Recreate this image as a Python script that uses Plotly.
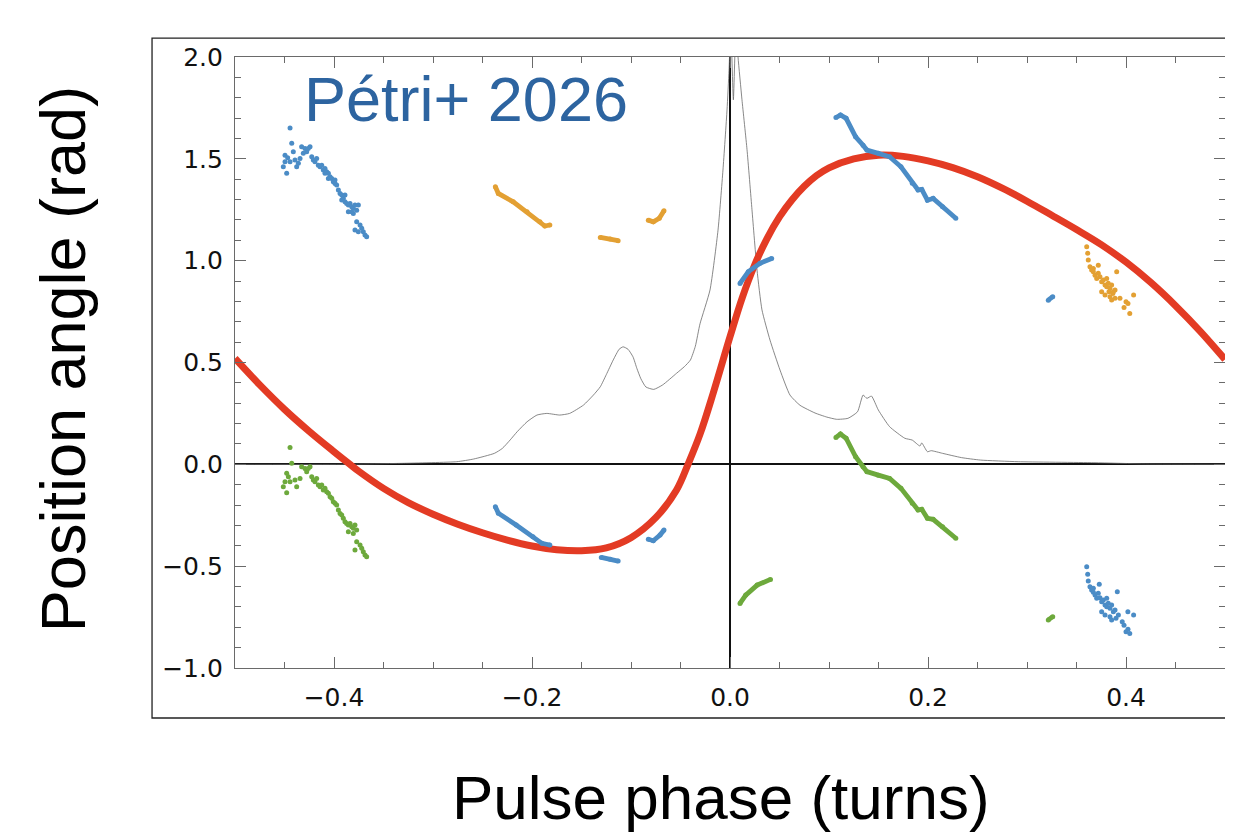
import plotly.graph_objects as go

# ---------------- data ----------------
# fitted RVM curve (red)
rvm_x = [-0.5, -0.475, -0.45, -0.425, -0.4, -0.384, -0.375, -0.35, -0.325, -0.3, -0.275, -0.25,
         -0.225, -0.2, -0.175, -0.15, -0.125, -0.1, -0.075, -0.054, -0.042, -0.030, -0.017,
         0.0, 0.0125, 0.025, 0.0375, 0.05, 0.0625, 0.075, 0.0875, 0.1, 0.125, 0.15, 0.175,
         0.2, 0.225, 0.25, 0.275, 0.3, 0.325, 0.35, 0.375, 0.4, 0.425, 0.45, 0.475, 0.5]
rvm_y = [0.52, 0.39, 0.27, 0.162, 0.062, 0.0, -0.034, -0.118, -0.188, -0.245, -0.294, -0.336,
         -0.372, -0.401, -0.419, -0.424, -0.41, -0.36, -0.262, -0.126, 0.005, 0.152, 0.349,
         0.626, 0.82, 0.98, 1.11, 1.215, 1.298, 1.365, 1.418, 1.456, 1.50, 1.518, 1.512,
         1.49, 1.457, 1.412, 1.356, 1.292, 1.223, 1.153, 1.079, 0.993, 0.893, 0.779, 0.653, 0.515]

# pulse profile (thin grey)
prof_x = [-0.5, -0.4, -0.33, -0.276, -0.259, -0.238, -0.230, -0.222, -0.215, -0.205, -0.195,
          -0.185, -0.172, -0.162, -0.148, -0.138, -0.131, -0.125, -0.118, -0.112, -0.108,
          -0.103, -0.098, -0.094, -0.090, -0.085, -0.077, -0.068, -0.054, -0.046, -0.040,
          -0.035, -0.0303, -0.0202, -0.0121, -0.0071, -0.003, -0.001, 0.0008, 0.0034, 0.006,
          0.0081, 0.0121, 0.0172, 0.0222, 0.0273, 0.0323, 0.0404, 0.0505, 0.0606, 0.0707,
          0.0859, 0.0978, 0.1078, 0.1192, 0.1288, 0.1344, 0.1383, 0.1429, 0.1498, 0.1612,
          0.1766, 0.1841, 0.1918, 0.1937, 0.1994, 0.2032, 0.2147, 0.2338, 0.2529, 0.2911,
          0.3676, 0.42, 0.5]
prof_y = [0.0, 0.0, 0.005, 0.013, 0.026, 0.054, 0.078, 0.12, 0.16, 0.209, 0.242,
          0.25, 0.242, 0.25, 0.291, 0.34, 0.381, 0.44, 0.512, 0.565, 0.577,
          0.565, 0.528, 0.47, 0.42, 0.38, 0.368, 0.39, 0.447, 0.48, 0.512,
          0.58, 0.69, 0.856, 1.15, 1.445, 1.74, 1.935, 2.15, 1.79, 2.15,
          2.0, 1.79, 1.545, 1.25, 0.954, 0.758, 0.61, 0.463, 0.34, 0.29,
          0.252, 0.232, 0.221, 0.226, 0.258, 0.340, 0.324, 0.335, 0.267, 0.185,
          0.128, 0.119, 0.090, 0.105, 0.062, 0.067, 0.054, 0.033, 0.021, 0.013,
          0.008, 0.002, 0.0]

# blue position angles
blue_a_x = [-0.237, -0.234, -0.216, -0.199, -0.190, -0.182]
blue_a_y = [-0.208, -0.240, -0.298, -0.355, -0.388, -0.396]
blue_b_x = [-0.130, -0.121, -0.113]
blue_b_y = [-0.457, -0.466, -0.475]
blue_c_x = [-0.0825, -0.0775, -0.0707, -0.0667]
blue_c_y = [-0.368, -0.375, -0.347, -0.323]
blue_d_x = [0.0101, 0.0185, 0.0303, 0.0421]
blue_d_y = [0.888, 0.946, 0.987, 1.011]
blue_e_x = [0.107, 0.1116, 0.1173, 0.1269, 0.1344, 0.1383, 0.1498, 0.1612, 0.1727, 0.1841,
            0.1899, 0.1937, 0.1994, 0.2052, 0.2147, 0.2281]
blue_e_y = [1.703, 1.715, 1.699, 1.608, 1.567, 1.543, 1.527, 1.51, 1.461, 1.38,
            1.347, 1.35, 1.297, 1.306, 1.265, 1.208]
blue_f_x = [0.3215, 0.326]
blue_f_y = [0.806, 0.823]

# orange position angles
orange_a_x = [-0.237, -0.234, -0.219, -0.205, -0.192, -0.187, -0.182]
orange_a_y = [1.363, 1.33, 1.289, 1.24, 1.191, 1.17, 1.175]
orange_b_x = [-0.131, -0.121, -0.113]
orange_b_y = [1.114, 1.106, 1.098]
orange_c_x = [-0.0825, -0.0775, -0.0714, -0.0667]
orange_c_y = [1.199, 1.191, 1.208, 1.245]

# green position angles
green_a_x = [0.107, 0.1116, 0.1173, 0.1269, 0.1344, 0.1383, 0.1498, 0.1612, 0.1727, 0.1841,
             0.1899, 0.1937, 0.1994, 0.2052, 0.2147, 0.2281]
green_a_y = [0.132, 0.149, 0.128, 0.037, -0.012, -0.036, -0.053, -0.069, -0.118, -0.191,
             -0.224, -0.221, -0.265, -0.27, -0.306, -0.363]
green_b_x = [0.0101, 0.0159, 0.0274, 0.0409]
green_b_y = [-0.683, -0.642, -0.593, -0.565]
green_c_x = [0.3215, 0.326]
green_c_y = [-0.764, -0.748]

# scattered clusters
blue_left_x = [-0.4444, -0.4427, -0.4495, -0.4468, -0.4512, -0.4478, -0.4495, -0.4444, -0.4394, -0.4377,
               -0.4343, -0.4327, -0.4293, -0.4276, -0.4260, -0.4242, -0.4225, -0.4209, -0.4192, -0.4175,
               -0.4158, -0.4141, -0.4124, -0.4108, -0.4091, -0.4074, -0.4057, -0.4040, -0.4023, -0.4007,
               -0.3990, -0.3973, -0.3956, -0.3939, -0.3922, -0.3906, -0.3889, -0.3872, -0.3855, -0.3838,
               -0.3821, -0.3805, -0.3788, -0.3771, -0.3855, -0.3805, -0.3771, -0.3788, -0.3737, -0.3720,
               -0.3704, -0.3687, -0.3670, -0.3754, -0.4411, -0.4360, -0.4310, -0.4091, -0.4057, -0.3990,
               -0.3922, -0.3889, -0.3821, -0.3754]
blue_left_y = [1.652, 1.576, 1.518, 1.505, 1.461, 1.429, 1.486, 1.486, 1.494, 1.461,
               1.502, 1.559, 1.551, 1.535, 1.551, 1.559, 1.510, 1.494, 1.486, 1.502,
               1.469, 1.461, 1.469, 1.445, 1.453, 1.436, 1.429, 1.412, 1.404, 1.387,
               1.379, 1.371, 1.347, 1.330, 1.322, 1.306, 1.289, 1.281, 1.273, 1.281,
               1.265, 1.257, 1.273, 1.248, 1.240, 1.232, 1.191, 1.150, 1.175, 1.159,
               1.142, 1.126, 1.117, 1.142, 1.535, 1.478, 1.527, 1.429, 1.404, 1.396,
               1.298, 1.322, 1.240, 1.273]

green_left_x = [-0.4444, -0.4427, -0.4478, -0.4461, -0.4512, -0.4478, -0.4495, -0.4444, -0.4394, -0.4377,
                -0.4343, -0.4327, -0.4293, -0.4276, -0.4260, -0.4242, -0.4225, -0.4209, -0.4192, -0.4175,
                -0.4158, -0.4141, -0.4124, -0.4108, -0.4091, -0.4074, -0.4057, -0.4040, -0.4023, -0.4007,
                -0.3990, -0.3973, -0.3956, -0.3939, -0.3922, -0.3906, -0.3889, -0.3872, -0.3855, -0.3838,
                -0.3821, -0.3805, -0.3788, -0.3771, -0.3855, -0.3805, -0.3771, -0.3788, -0.3737, -0.3720,
                -0.3704, -0.3687, -0.3670]
green_left_y = [0.083, 0.005, -0.044, -0.061, -0.110, -0.139, -0.085, -0.085, -0.077, -0.110,
                -0.069, -0.012, -0.020, -0.036, -0.020, -0.012, -0.061, -0.077, -0.085, -0.069,
                -0.102, -0.110, -0.102, -0.126, -0.118, -0.135, -0.142, -0.159, -0.167, -0.184,
                -0.191, -0.200, -0.224, -0.241, -0.249, -0.265, -0.282, -0.290, -0.298, -0.290,
                -0.306, -0.314, -0.298, -0.323, -0.331, -0.339, -0.380, -0.421, -0.396, -0.412,
                -0.429, -0.445, -0.454]

orange_right_x = [0.3603, 0.3613, 0.3619, 0.3636, 0.3653, 0.3670, 0.3720, 0.3687, 0.3704, 0.3737,
                  0.3754, 0.3771, 0.3788, 0.3805, 0.3821, 0.3838, 0.3855, 0.3872, 0.3889, 0.3754,
                  0.3788, 0.3838, 0.3855, 0.3906, 0.3670, 0.3720, 0.3805, 0.3889, 0.3828, 0.3867,
                  0.3939, 0.4000, 0.4038, 0.4077, 0.3980, 0.4020]
orange_right_y = [1.068, 1.036, 1.003, 0.970, 0.954, 0.946, 0.978, 0.929, 0.913, 0.921,
                  0.896, 0.905, 0.880, 0.872, 0.889, 0.864, 0.880, 0.847, 0.856, 0.847,
                  0.831, 0.823, 0.807, 0.946, 0.962, 0.938, 0.913, 0.815, 0.847, 0.839,
                  0.815, 0.798, 0.741, 0.831, 0.770, 0.790]

blue_right_x = [0.3603, 0.3613, 0.3619, 0.3636, 0.3653, 0.3670, 0.3730, 0.3687, 0.3704, 0.3737,
                0.3754, 0.3771, 0.3788, 0.3805, 0.3821, 0.3838, 0.3855, 0.3872, 0.3889, 0.3754,
                0.3788, 0.3838, 0.3855, 0.3912, 0.3670, 0.3720, 0.3805, 0.3899, 0.4000, 0.4038,
                0.4077, 0.4019, 0.3962, 0.3923, 0.3980, 0.4020]
blue_right_y = [-0.503, -0.540, -0.573, -0.601, -0.617, -0.628, -0.589, -0.642, -0.658, -0.655,
                -0.675, -0.666, -0.691, -0.699, -0.682, -0.707, -0.691, -0.724, -0.715, -0.724,
                -0.740, -0.748, -0.764, -0.625, -0.609, -0.633, -0.658, -0.756, -0.822, -0.830,
                -0.740, -0.724, -0.773, -0.740, -0.790, -0.810]

x_tick_vals = [-0.4, -0.2, 0.0, 0.2, 0.4]
y_tick_vals = [-1.0, -0.5, 0.0, 0.5, 1.0, 1.5, 2.0]

# ---------------- styles ----------------
BLUE = '#4b8cc6'
ORANGE = '#e3a033'
GREEN = '#6da93c'
RED = '#e33b24'

fig = go.Figure()

fig.add_trace(go.Scatter(x=prof_x, y=prof_y, mode='lines',
                         line=dict(color='#6a6a6a', width=0.8, shape='spline', smoothing=0.5),
                         hoverinfo='skip'))
fig.add_trace(go.Scatter(x=rvm_x, y=rvm_y, mode='lines',
                         line=dict(color=RED, width=7, shape='spline', smoothing=1.0)))

segments = [
    (blue_a_x, blue_a_y, BLUE), (blue_b_x, blue_b_y, BLUE), (blue_c_x, blue_c_y, BLUE),
    (blue_d_x, blue_d_y, BLUE), (blue_e_x, blue_e_y, BLUE), (blue_f_x, blue_f_y, BLUE),
    (orange_a_x, orange_a_y, ORANGE), (orange_b_x, orange_b_y, ORANGE), (orange_c_x, orange_c_y, ORANGE),
    (green_a_x, green_a_y, GREEN), (green_b_x, green_b_y, GREEN), (green_c_x, green_c_y, GREEN),
]
for sx, sy, col in segments:
    fig.add_trace(go.Scatter(x=sx, y=sy, mode='lines+markers',
                             line=dict(color=col, width=4.8),
                             marker=dict(color=col, size=5)))

clusters = [
    (blue_left_x, blue_left_y, BLUE), (green_left_x, green_left_y, GREEN),
    (orange_right_x, orange_right_y, ORANGE), (blue_right_x, blue_right_y, BLUE),
]
for cx, cy, col in clusters:
    fig.add_trace(go.Scatter(x=cx, y=cy, mode='markers',
                             marker=dict(color=col, size=5, line=dict(width=0))))

axis_common = dict(
    showline=True, linecolor='#6a6a6a', linewidth=1.2, mirror='allticks',
    ticks='inside', ticklen=11, tickwidth=1, tickcolor='#6a6a6a',
    showgrid=False, zeroline=True, zerolinecolor='#111111',
    tickfont=dict(family='DejaVu Sans', size=25, color='#111111'),
    tickformat='.1f',
)

fig.update_xaxes(range=[-0.5, 0.5], tickvals=x_tick_vals, zerolinewidth=2,
                 minor=dict(dtick=0.05, ticks='inside', ticklen=6, tickcolor='#6a6a6a', showgrid=False),
                 ticklabelstandoff=7, **axis_common)
fig.update_yaxes(range=[-1.0, 2.0], tickvals=y_tick_vals, zerolinewidth=1.5,
                 minor=dict(dtick=0.1, ticks='inside', ticklen=6, tickcolor='#6a6a6a', showgrid=False),
                 ticklabelstandoff=6, **axis_common)

# the page adds an 8 px body margin, so margins are reduced accordingly
L, R, T, B = 227, 8, 49, 169
fig.update_layout(
    width=1225, height=829,
    margin=dict(l=L, r=R, t=T, b=B),
    paper_bgcolor='white', plot_bgcolor='white',
    showlegend=False,
    shapes=[dict(type='rect', xref='paper', yref='paper',
                 x0=-0.0838, x1=1.03, y0=-0.0818, y1=1.031,
                 line=dict(color='#222222', width=1.3), layer='below')],
    annotations=[
        dict(text='Pétri+ 2026', xref='paper', yref='paper', x=0.0677, y=0.931,
             xanchor='left', yanchor='middle', showarrow=False,
             font=dict(family='Liberation Sans', size=63, color='#2d64a0')),
        dict(text='Position angle (rad)', xref='paper', yref='paper', x=-0.173, y=0.505,
             xanchor='center', yanchor='middle', textangle=-90, showarrow=False,
             font=dict(family='Liberation Sans', size=63, color='#000000')),
        dict(text='Pulse phase (turns)', xref='paper', yref='paper', x=0.491, y=-0.212,
             xanchor='center', yanchor='middle', showarrow=False,
             font=dict(family='Liberation Sans', size=62, color='#000000')),
    ],
)

fig.write_html('out.html')
